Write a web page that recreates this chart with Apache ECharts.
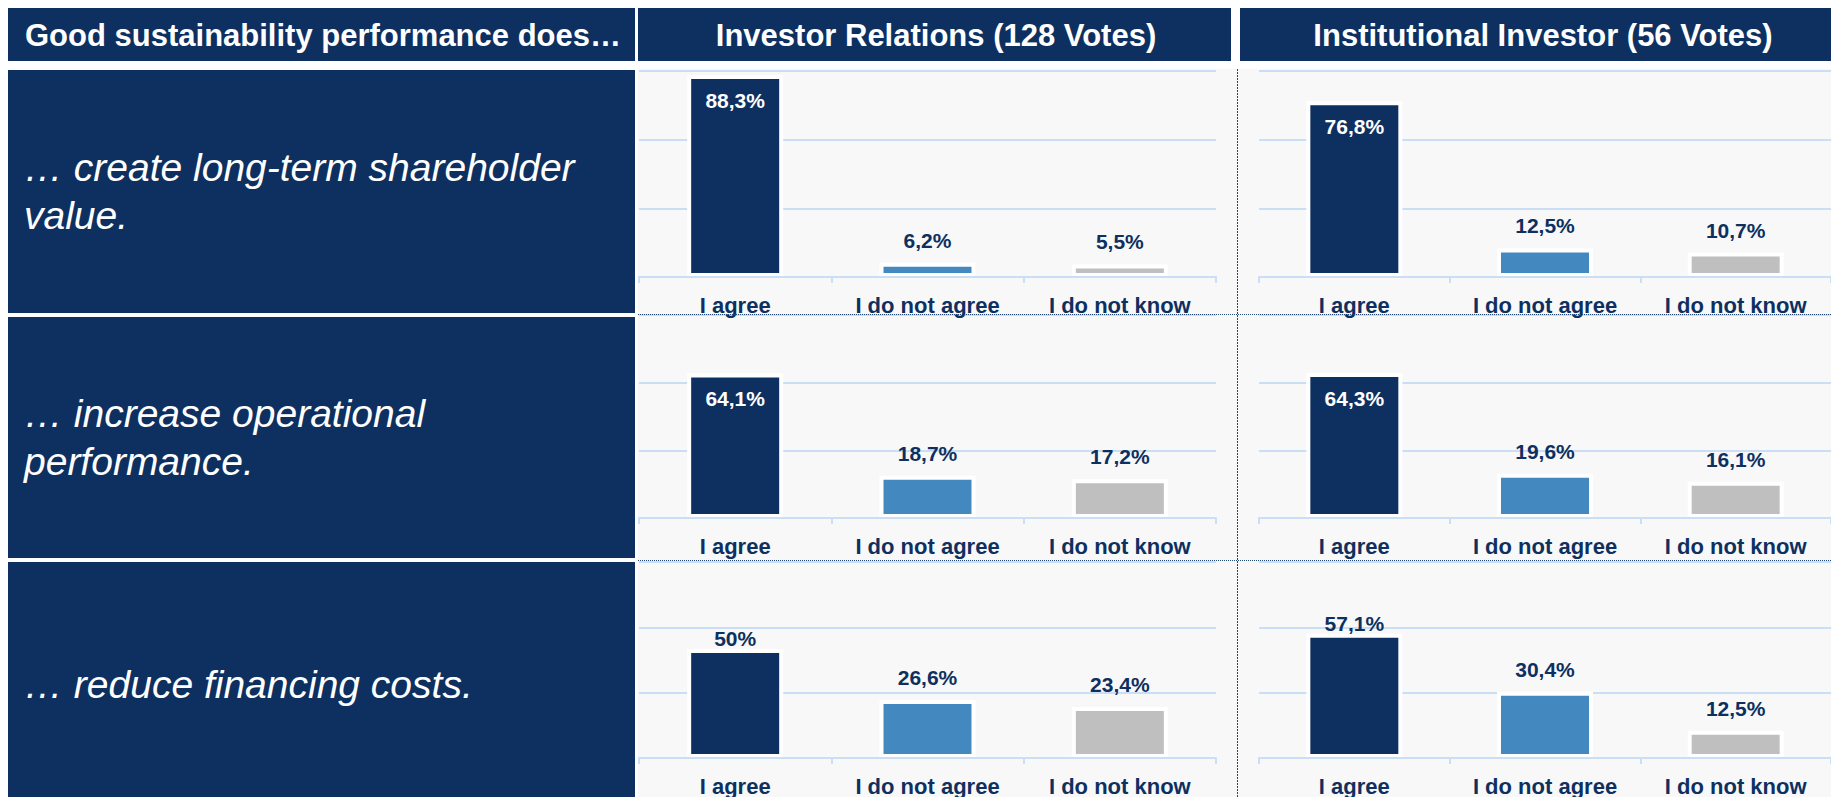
<!DOCTYPE html>
<html>
<head>
<meta charset="utf-8">
<title>Good sustainability performance does…</title>
<script src="https://cdn.jsdelivr.net/npm/echarts@6/dist/echarts.min.js"></script>
<style>
  html, body { margin: 0; padding: 0; background: #fff; }
  #main { width: 1831px; height: 797px; }
</style>
</head>
<body>
<div id="main"></div>
<script>
const headTitle = 'Good sustainability performance does…';
const groupTitles = ['Investor Relations (128 Votes)', 'Institutional Investor (56 Votes)'];
const statements = ['… create long-term shareholder\nvalue.', '… increase operational\nperformance.', '… reduce financing costs.'];
const categories = ['I agree', 'I do not agree', 'I do not know'];

// share of votes in %, same order as categories
const irShareholder = [88.3, 6.2, 5.5];
const irOperational = [64.1, 18.7, 17.2];
const irFinancing = [50, 26.6, 23.4];
const iiShareholder = [76.8, 12.5, 10.7];
const iiOperational = [64.3, 19.6, 16.1];
const iiFinancing = [57.1, 30.4, 12.5];

const NAVY = '#0e3060';
const barColors = [NAVY, '#4389c0', '#bfbfbf'];
const LIGHT = '#cadff6';
const DOTS = '#234876';
const FONT = '"Liberation Sans", Arial, sans-serif';

const chart = echarts.init(document.getElementById('main'), null, { renderer: 'svg' });

// layout of the three statement rows and two vote columns
const rows = [
  { top: 70, bottom: 313, gridTop: 71, gridH: 206, textY: 191 },
  { top: 317, bottom: 558, gridTop: 315, gridH: 203, textY: 437 },
  { top: 562, bottom: 797, gridTop: 562, gridH: 196, textY: 684 }
];
const cols = [{ left: 639, width: 577 }, { left: 1259, width: 577 }];
const panels = [
  [irShareholder, iiShareholder],
  [irOperational, iiOperational],
  [irFinancing, iiFinancing]
];

const fmt = v => String(v).replace('.', ',') + '%';

let grid = [], xAxis = [], yAxis = [], series = [];
rows.forEach((r, ri) => {
  cols.forEach((c, ci) => {
    const idx = grid.length;
    grid.push({ left: c.left, width: c.width, top: r.gridTop, height: r.gridH, containLabel: false });
    xAxis.push({
      type: 'category',
      gridIndex: idx,
      data: categories,
      z: 3,
      axisLine: { lineStyle: { color: LIGHT, width: 2 } },
      axisTick: { show: true, length: 6, lineStyle: { color: LIGHT, width: 2 } },
      axisLabel: { color: NAVY, fontFamily: FONT, fontWeight: 'bold', fontSize: 22, margin: 17 }
    });
    yAxis.push({
      type: 'value',
      gridIndex: idx,
      min: 0, max: 90, interval: 30,
      axisLine: { show: false },
      axisTick: { show: false },
      axisLabel: { show: false },
      splitLine: { lineStyle: { color: LIGHT, width: 2 } }
    });
    series.push({
      type: 'bar',
      xAxisIndex: idx,
      yAxisIndex: idx,
      barWidth: 96,
      silent: true,
      data: panels[ri][ci].map((v, k) => {
        const inside = v > 60;
        return {
          value: v,
          itemStyle: { color: barColors[k], borderColor: '#ffffff', borderWidth: 4 },
          label: {
            show: true,
            position: inside ? 'insideTop' : 'top',
            distance: inside ? 15 : (k === 0 ? 0 : 12),
            color: inside ? '#ffffff' : NAVY,
            fontFamily: FONT,
            fontWeight: 'bold',
            fontSize: 21,
            formatter: p => fmt(p.value)
          }
        };
      })
    });
  });
});

let graphics = [
  // light panel behind the charts
  { type: 'rect', z: -10, shape: { x: 638, y: 69, width: 1193, height: 728 }, style: { fill: '#f8f8f8' } },
  // header row
  { type: 'rect', shape: { x: 8, y: 8, width: 627, height: 53 }, style: { fill: NAVY } },
  { type: 'rect', shape: { x: 638, y: 8, width: 593, height: 53 }, style: { fill: NAVY } },
  { type: 'rect', shape: { x: 1240, y: 8, width: 606, height: 53 }, style: { fill: NAVY } },
  { type: 'text', x: 25, y: 35, style: { text: headTitle, fill: '#fff', font: 'bold 31px ' + FONT, textAlign: 'left', textVerticalAlign: 'middle' } },
  { type: 'text', x: 936, y: 35, style: { text: groupTitles[0], fill: '#fff', font: 'bold 31px ' + FONT, textAlign: 'center', textVerticalAlign: 'middle' } },
  { type: 'text', x: 1543, y: 35, style: { text: groupTitles[1], fill: '#fff', font: 'bold 31px ' + FONT, textAlign: 'center', textVerticalAlign: 'middle' } },
  // dotted separators
  { type: 'line', z: 50, shape: { x1: 638, y1: 314.5, x2: 1831, y2: 314.5 }, style: { stroke: DOTS, lineWidth: 1, lineDash: [1, 1] } },
  { type: 'line', z: 50, shape: { x1: 638, y1: 560.5, x2: 1831, y2: 560.5 }, style: { stroke: DOTS, lineWidth: 1, lineDash: [1, 1] } },
  { type: 'line', z: 50, shape: { x1: 1237.5, y1: 69, x2: 1237.5, y2: 797 }, style: { stroke: DOTS, lineWidth: 1, lineDash: [2, 1] } }
];
rows.forEach((r, ri) => {
  graphics.push({ type: 'rect', shape: { x: 8, y: r.top, width: 627, height: r.bottom - r.top }, style: { fill: NAVY } });
  graphics.push({
    type: 'text', x: 24, y: r.textY,
    style: { text: statements[ri], fill: '#fff', font: 'italic 39px ' + FONT, lineHeight: 48, textAlign: 'left', textVerticalAlign: 'middle' }
  });
});

chart.setOption({
  animation: false,
  backgroundColor: '#ffffff',
  grid: grid,
  xAxis: xAxis,
  yAxis: yAxis,
  series: series,
  graphic: { elements: graphics }
});
</script>
</body>
</html>
